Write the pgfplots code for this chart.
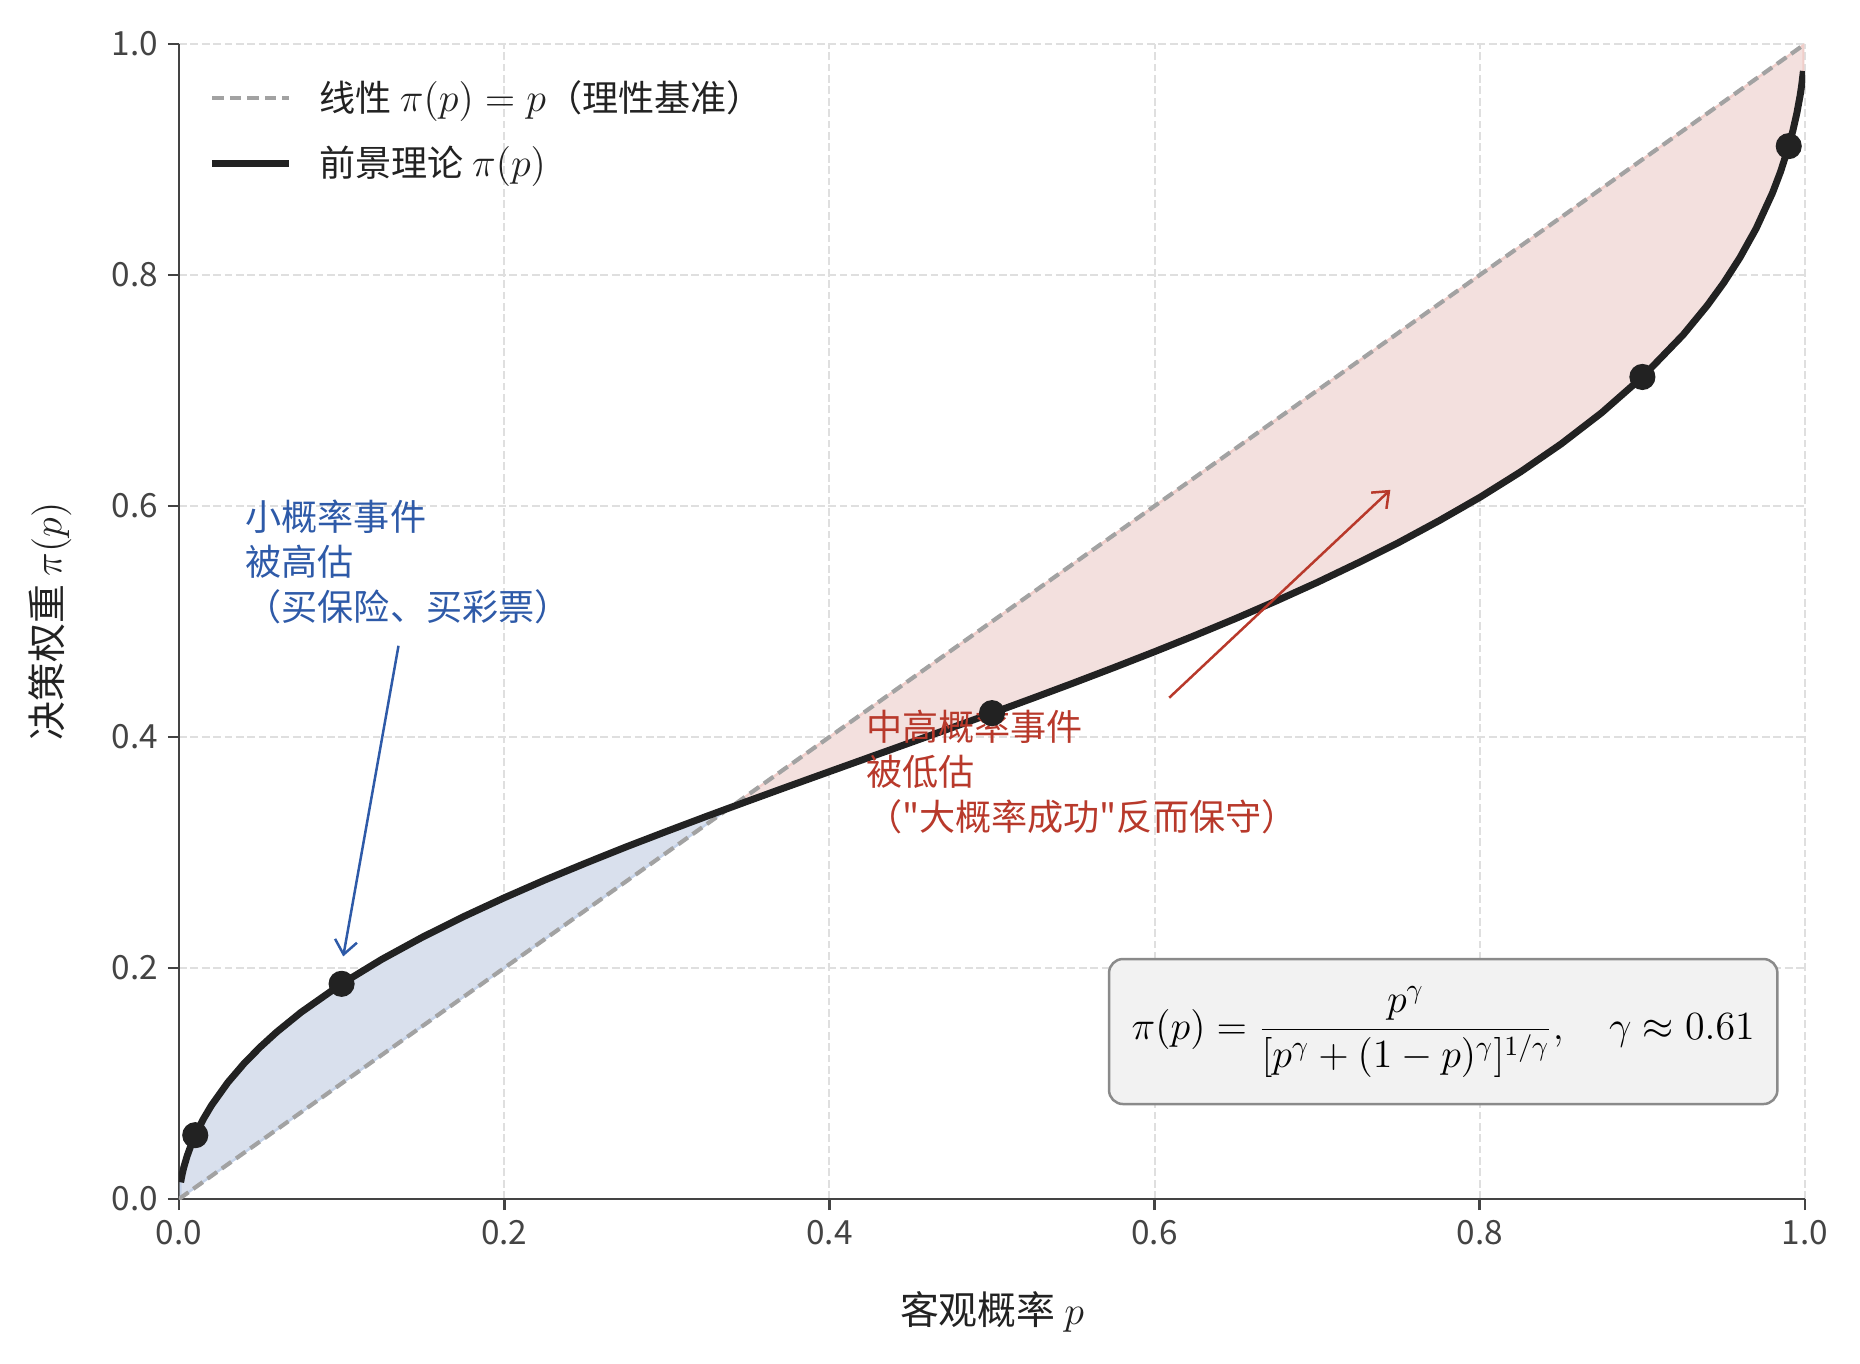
\documentclass[border=0pt]{standalone}
\usepackage[no-math]{fontspec}
\setmainfont{Noto Sans CJK SC}[Ligatures=TeXOff]
\usepackage{pgfplots}
\pgfplotsset{compat=1.18}
\usetikzlibrary{arrows.meta}

\definecolor{curvec}{HTML}{222222}
\definecolor{diagc}{HTML}{A2A2A2}
\definecolor{bluefill}{RGB}{217,224,237}
\definecolor{blueedge}{RGB}{196,210,232}
\definecolor{redfill}{RGB}{243,224,222}
\definecolor{rededge}{RGB}{240,206,202}
\definecolor{annblue}{HTML}{2E5AA8}
\definecolor{annred}{HTML}{B8392B}
\definecolor{spine}{HTML}{444444}
\definecolor{gridc}{HTML}{DFDFDF}
\definecolor{boxfill}{HTML}{F2F2F2}
\definecolor{boxedge}{HTML}{8A8A8A}

\begin{document}
\begin{tikzpicture}
\begin{axis}[
    scale only axis,
    width=585.36pt, height=415.8pt,
    xmin=0, xmax=1, ymin=0, ymax=1,
    axis lines*=left,
    axis line style={spine, line width=1pt},
    tick style={spine, line width=1pt},
    major tick length=4pt,
    tick align=outside,
    xtick={0,0.2,0.4,0.6,0.8,1},
    ytick={0,0.2,0.4,0.6,0.8,1},
    xticklabels={0.0,0.2,0.4,0.6,0.8,1.0},
    yticklabels={0.0,0.2,0.4,0.6,0.8,1.0},
    tick label style={font=\fontsize{12}{14}\selectfont, text=spine},
    grid=major,
    major grid style={gridc, dash pattern=on 2.8pt off 1.3pt, line width=0.7pt},
    xlabel={客观概率 $p$},
    ylabel={决策权重 $\pi(p)$},
    label style={font=\fontsize{14}{17}\selectfont, text=curvec},
    xlabel style={at={(axis description cs:0.5,-0.098)}, anchor=center},
    ylabel style={at={(axis description cs:-0.0793,0.5)}, anchor=center},
    legend cell align=left,
    legend style={at={(axis description cs:0.018,0.9737)}, anchor=north west,
        draw=none, fill=none, inner sep=0pt, row sep=7pt,
        font=\fontsize{13}{15.6}\selectfont, text=curvec,
        /tikz/every odd column/.append style={column sep=7.7pt}},
    legend image code/.code={\draw[#1] (0pt,0pt) -- (27.7pt,0pt);},
]

% overweighted region (pi(p) > p)
\addplot[fill=bluefill, draw=blueedge, line width=0.8pt, forget plot] coordinates {
    (0.001,0.014449) (0.002,0.021806) (0.003,0.027671) (0.005,0.037230)
    (0.0075,0.046966) (0.01,0.055266) (0.015,0.069276) (0.02,0.081100)
    (0.03,0.100832) (0.04,0.117292) (0.05,0.131625) (0.06,0.144443)
    (0.075,0.161589) (0.1,0.186302) (0.125,0.207735) (0.15,0.226913)
    (0.175,0.244452) (0.2,0.260764) (0.225,0.276184) (0.25,0.290742)
    (0.275,0.304850) (0.3,0.318365) (0.325,0.331603) (0.3387,0.3387)
    (0.001,0.001)
} -- cycle;
% underweighted region (pi(p) < p)
\addplot[fill=redfill, draw=rededge, line width=0.8pt, forget plot] coordinates {
    (0.3387,0.3387) (0.35,0.344572) (0.375,0.357356) (0.4,0.370020)
    (0.425,0.382635) (0.45,0.395226) (0.475,0.407888) (0.5,0.420647)
    (0.525,0.433566) (0.55,0.446690) (0.575,0.460112) (0.6,0.473851)
    (0.625,0.488024) (0.65,0.502664) (0.675,0.517897) (0.7,0.533821)
    (0.725,0.550679) (0.75,0.568270) (0.775,0.587274) (0.8,0.607440)
    (0.825,0.629479) (0.85,0.653714) (0.875,0.680799) (0.9,0.711716)
    (0.925,0.748119) (0.94,0.773802) (0.95,0.793190) (0.96,0.815075)
    (0.97,0.840396) (0.98,0.871042) (0.985,0.889541) (0.99,0.911584)
    (0.9925,0.924702) (0.995,0.940153) (0.997,0.955391) (0.998,0.964775)
    (0.999,0.976593) (0.999,0.999)
} -- cycle;

% linear reference
\addplot[diagc, line width=1.5pt, dash pattern=on 4.2pt off 2.1pt] coordinates {
    (0,0) (1,1)
};
\addlegendentry{线性 {\fontsize{14}{15.6}\selectfont$\pi(p)=p$}（理性基准）}

% prospect theory weighting, gamma = 0.61
\addplot[curvec, line width=2.5pt, line join=round] coordinates {
    (0.001,0.014449) (0.002,0.021806) (0.003,0.027671) (0.005,0.037230)
    (0.0075,0.046966) (0.01,0.055266) (0.015,0.069276) (0.02,0.081100)
    (0.03,0.100832) (0.04,0.117292) (0.05,0.131625) (0.06,0.144443)
    (0.075,0.161589) (0.1,0.186302) (0.125,0.207735) (0.15,0.226913)
    (0.175,0.244452) (0.2,0.260764) (0.225,0.276184) (0.25,0.290742)
    (0.275,0.304850) (0.3,0.318365) (0.325,0.331603) (0.35,0.344572)
    (0.375,0.357356) (0.4,0.370020) (0.425,0.382635) (0.45,0.395226)
    (0.475,0.407888) (0.5,0.420647) (0.525,0.433566) (0.55,0.446690)
    (0.575,0.460112) (0.6,0.473851) (0.625,0.488024) (0.65,0.502664)
    (0.675,0.517897) (0.7,0.533821) (0.725,0.550679) (0.75,0.568270)
    (0.775,0.587274) (0.8,0.607440) (0.825,0.629479) (0.85,0.653714)
    (0.875,0.680799) (0.9,0.711716) (0.925,0.748119) (0.94,0.773802)
    (0.95,0.793190) (0.96,0.815075) (0.97,0.840396) (0.98,0.871042)
    (0.985,0.889541) (0.99,0.911584) (0.9925,0.924702) (0.995,0.940153)
    (0.997,0.955391) (0.998,0.964775) (0.999,0.976593)
};
\addlegendentry{前景理论 {\fontsize{14}{15.6}\selectfont$\pi(p)$}}

% highlighted points
\addplot[only marks, mark=*, mark size=4.5pt, curvec, forget plot] coordinates {
    (0.01,0.055266) (0.1,0.186302) (0.5,0.420647) (0.9,0.711716) (0.99,0.911584)
};

% annotations
\draw[annblue, line width=0.9pt, -{Straight Barb[length=5pt,width=8pt]}]
    (axis cs:0.135,0.479) -- (axis cs:0.101,0.210);
\node[anchor=south west, align=left, inner sep=0pt, text=annblue,
      font=\fontsize{13}{16.2}\selectfont]
    at (axis cs:0.0406,0.497) {小概率事件\\被高估\\（买保险、买彩票）};

\draw[annred, line width=0.9pt, -{Straight Barb[length=5pt,width=8pt]}]
    (axis cs:0.609,0.434) -- (axis cs:0.745,0.614);
\node[anchor=south west, align=left, inner sep=0pt, text=annred,
      font=\fontsize{13}{16.2}\selectfont]
    at (axis cs:0.4222,0.316) {中高概率事件\\被低估\\（"大概率成功"反而保守）};

% formula box
\node[draw=boxedge, fill=boxfill, line width=0.9pt, rounded corners=5pt,
      minimum width=240.6pt, minimum height=52.2pt, inner sep=0pt,
      font=\fontsize{14}{17}\selectfont]
    at (axis cs:0.7775,0.145)
    {$\displaystyle \pi(p)=\frac{p^{\gamma}}{[p^{\gamma}+(1-p)^{\gamma}]^{1/\gamma}},\quad \gamma\approx 0.61$};

\end{axis}
\pgfresetboundingbox
\path[use as bounding box] (-64.44pt,-59.04pt) rectangle (605.16pt,431.64pt);
\end{tikzpicture}
\end{document}
